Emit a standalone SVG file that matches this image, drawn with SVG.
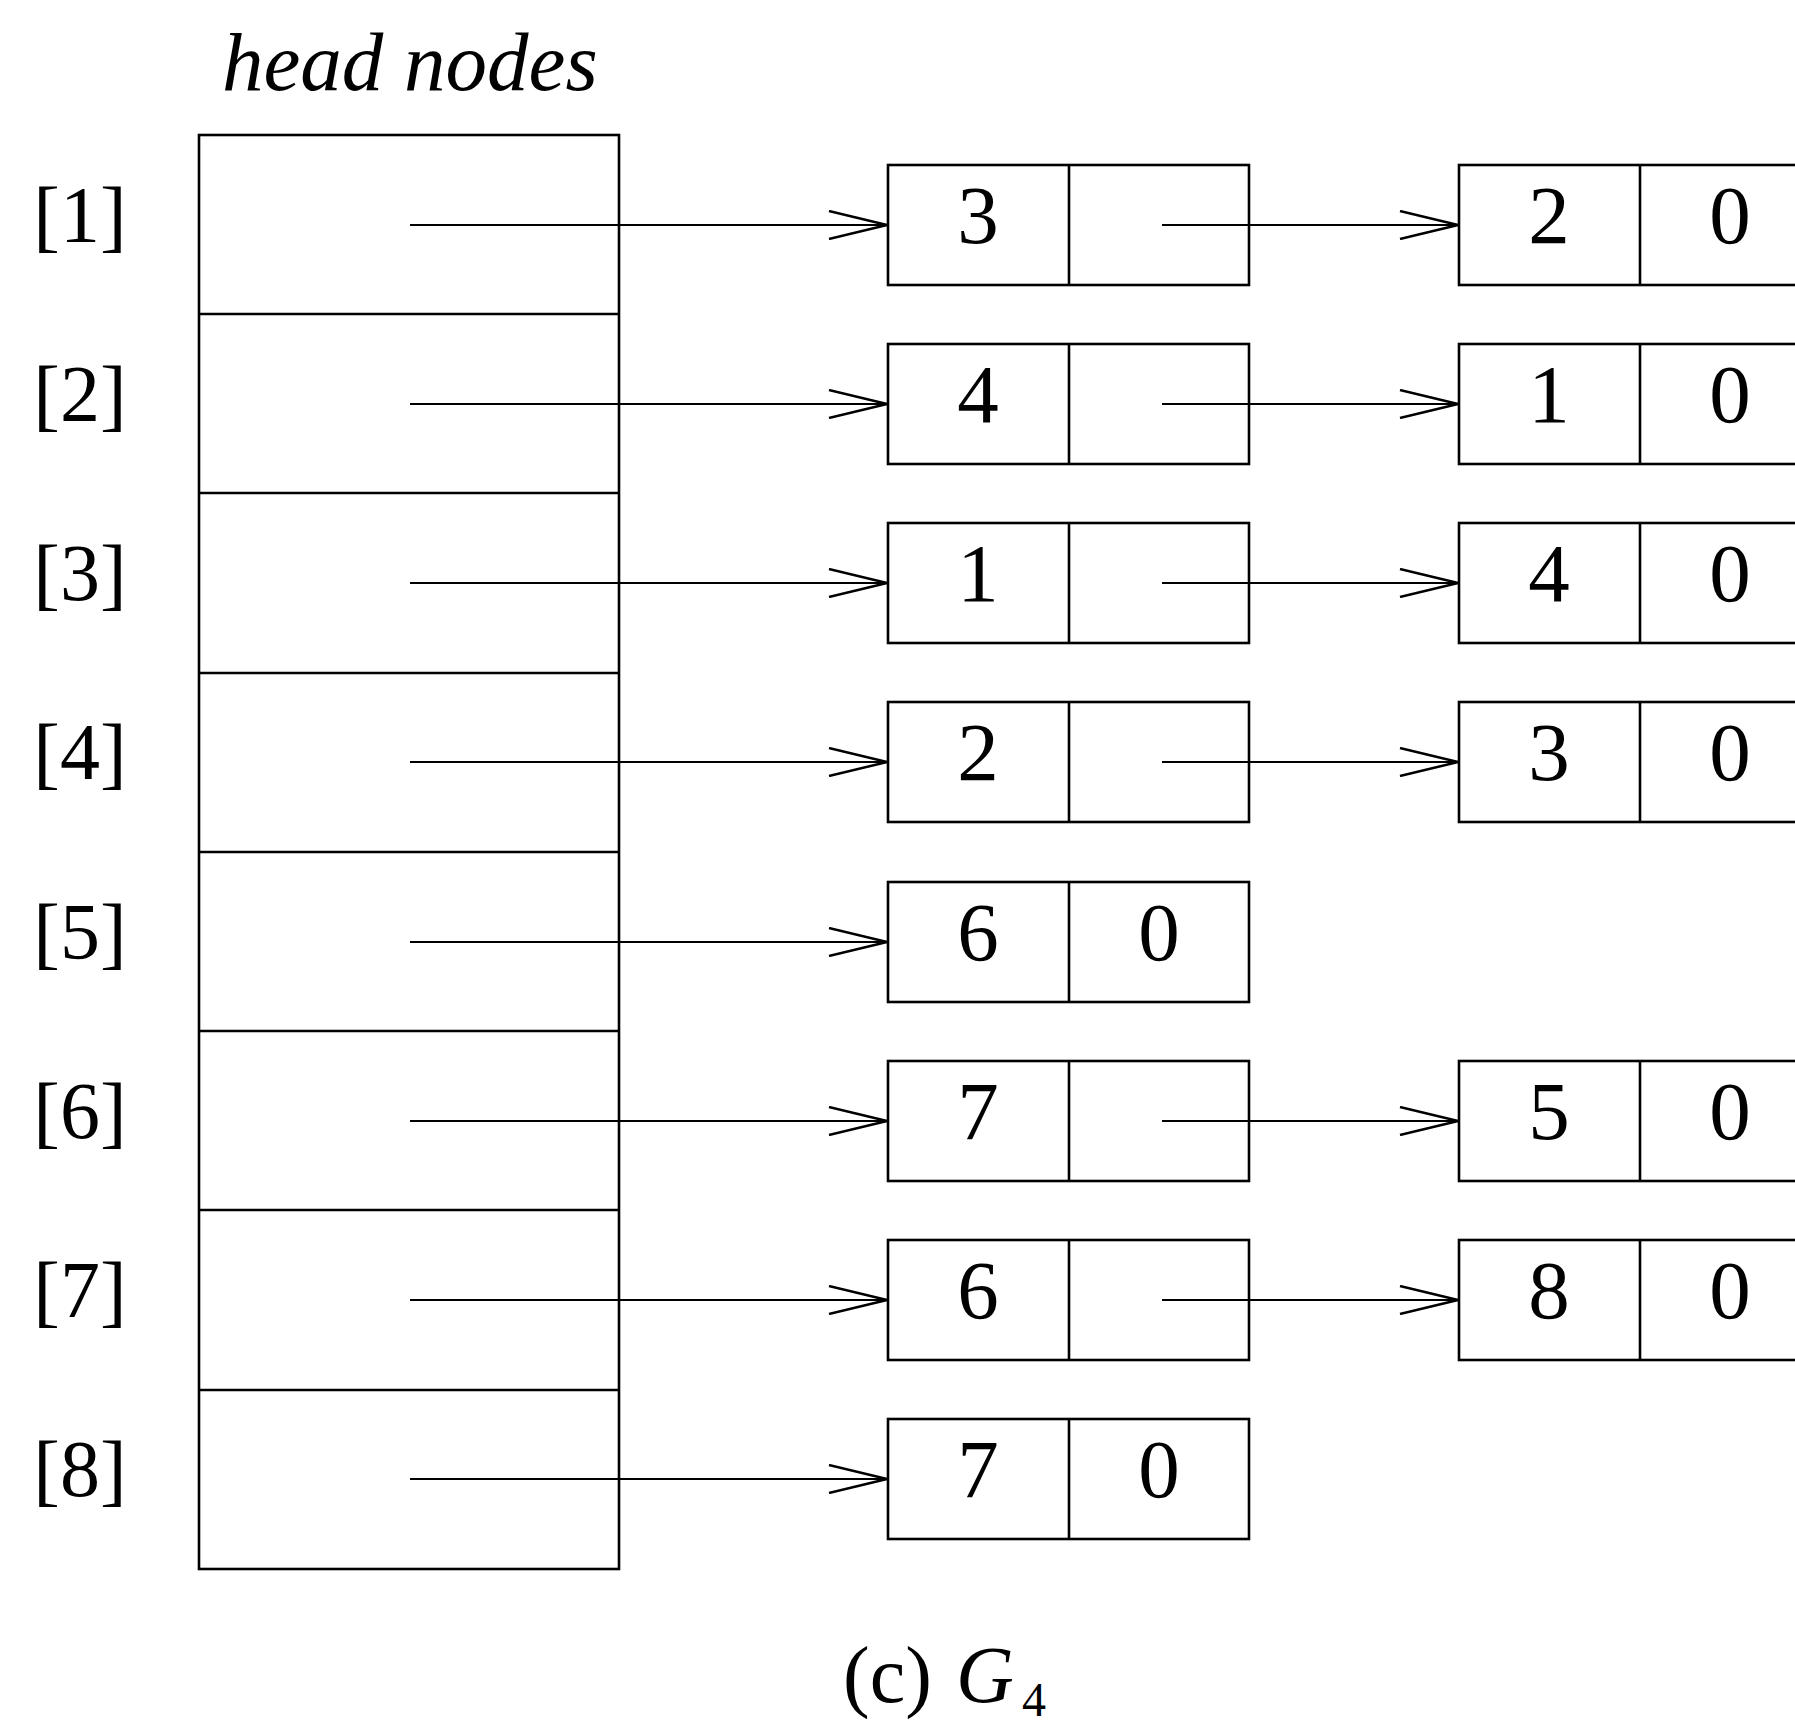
<svg xmlns="http://www.w3.org/2000/svg" width="1795" height="1727" viewBox="0 0 1795 1727">
<defs>
<style>
.box{fill:none;stroke:#000;stroke-width:2.6}
.ln{stroke:#000;stroke-width:2.6}
.arr{stroke:#000;stroke-width:2.2;fill:none;marker-end:url(#ah)}
.num{font-family:"Liberation Serif","Times New Roman",serif;font-size:83px;text-anchor:middle;fill:#000}
.lbl{font-family:"Liberation Serif","Times New Roman",serif;font-size:80px;text-anchor:middle;fill:#000}
.ttl{font-family:"Liberation Serif","Times New Roman",serif;font-size:83px;font-style:italic;fill:#000}
.cap{font-family:"Liberation Serif","Times New Roman",serif;fill:#000}
</style>
<marker id="ah" viewBox="0 0 60 30" refX="60" refY="15" markerWidth="60" markerHeight="30" markerUnits="userSpaceOnUse" orient="auto">
<path d="M1,1 L59,15 L1,29" fill="none" stroke="#000" stroke-width="2.5"/>
</marker>
</defs>
<rect width="1795" height="1727" fill="#fff"/>
<text class="ttl" x="222" y="90">head nodes</text>

<g id="head">
<rect class="box" x="199" y="135" width="420" height="1434"/>
<line class="ln" x1="199" y1="314" x2="619" y2="314"/>
<line class="ln" x1="199" y1="493" x2="619" y2="493"/>
<line class="ln" x1="199" y1="673" x2="619" y2="673"/>
<line class="ln" x1="199" y1="852" x2="619" y2="852"/>
<line class="ln" x1="199" y1="1031" x2="619" y2="1031"/>
<line class="ln" x1="199" y1="1210" x2="619" y2="1210"/>
<line class="ln" x1="199" y1="1390" x2="619" y2="1390"/>
<text class="lbl" x="80" y="242">[1]</text>
<text class="lbl" x="80" y="421">[2]</text>
<text class="lbl" x="80" y="600">[3]</text>
<text class="lbl" x="80" y="779">[4]</text>
<text class="lbl" x="80" y="959">[5]</text>
<text class="lbl" x="80" y="1138">[6]</text>
<text class="lbl" x="80" y="1317">[7]</text>
<text class="lbl" x="80" y="1496">[8]</text>
</g>

<g id="connectors">
<line class="arr" x1="410" y1="225" x2="888" y2="225"/>
<line class="arr" x1="410" y1="404" x2="888" y2="404"/>
<line class="arr" x1="410" y1="583" x2="888" y2="583"/>
<line class="arr" x1="410" y1="762" x2="888" y2="762"/>
<line class="arr" x1="410" y1="942" x2="888" y2="942"/>
<line class="arr" x1="410" y1="1121" x2="888" y2="1121"/>
<line class="arr" x1="410" y1="1300" x2="888" y2="1300"/>
<line class="arr" x1="410" y1="1479" x2="888" y2="1479"/>
<line class="arr" x1="1162" y1="225" x2="1459" y2="225"/>
<line class="arr" x1="1162" y1="404" x2="1459" y2="404"/>
<line class="arr" x1="1162" y1="583" x2="1459" y2="583"/>
<line class="arr" x1="1162" y1="762" x2="1459" y2="762"/>
<line class="arr" x1="1162" y1="1121" x2="1459" y2="1121"/>
<line class="arr" x1="1162" y1="1300" x2="1459" y2="1300"/>
</g>

<g id="n1a"><rect class="box" x="888" y="165" width="361" height="120"/><line class="ln" x1="1069" y1="165" x2="1069" y2="285"/><text class="num" x="978" y="243">3</text></g>
<g id="n1b"><rect class="box" x="1459" y="165" width="361" height="120"/><line class="ln" x1="1640" y1="165" x2="1640" y2="285"/><text class="num" x="1549" y="243">2</text><text class="num" x="1730" y="243">0</text></g>

<g id="n2a"><rect class="box" x="888" y="344" width="361" height="120"/><line class="ln" x1="1069" y1="344" x2="1069" y2="464"/><text class="num" x="978" y="422">4</text></g>
<g id="n2b"><rect class="box" x="1459" y="344" width="361" height="120"/><line class="ln" x1="1640" y1="344" x2="1640" y2="464"/><text class="num" x="1549" y="422">1</text><text class="num" x="1730" y="422">0</text></g>

<g id="n3a"><rect class="box" x="888" y="523" width="361" height="120"/><line class="ln" x1="1069" y1="523" x2="1069" y2="643"/><text class="num" x="978" y="601">1</text></g>
<g id="n3b"><rect class="box" x="1459" y="523" width="361" height="120"/><line class="ln" x1="1640" y1="523" x2="1640" y2="643"/><text class="num" x="1549" y="601">4</text><text class="num" x="1730" y="601">0</text></g>

<g id="n4a"><rect class="box" x="888" y="702" width="361" height="120"/><line class="ln" x1="1069" y1="702" x2="1069" y2="822"/><text class="num" x="978" y="780">2</text></g>
<g id="n4b"><rect class="box" x="1459" y="702" width="361" height="120"/><line class="ln" x1="1640" y1="702" x2="1640" y2="822"/><text class="num" x="1549" y="780">3</text><text class="num" x="1730" y="780">0</text></g>

<g id="n5a"><rect class="box" x="888" y="882" width="361" height="120"/><line class="ln" x1="1069" y1="882" x2="1069" y2="1002"/><text class="num" x="978" y="960">6</text><text class="num" x="1159" y="960">0</text></g>

<g id="n6a"><rect class="box" x="888" y="1061" width="361" height="120"/><line class="ln" x1="1069" y1="1061" x2="1069" y2="1181"/><text class="num" x="978" y="1139">7</text></g>
<g id="n6b"><rect class="box" x="1459" y="1061" width="361" height="120"/><line class="ln" x1="1640" y1="1061" x2="1640" y2="1181"/><text class="num" x="1549" y="1139">5</text><text class="num" x="1730" y="1139">0</text></g>

<g id="n7a"><rect class="box" x="888" y="1240" width="361" height="120"/><line class="ln" x1="1069" y1="1240" x2="1069" y2="1360"/><text class="num" x="978" y="1318">6</text></g>
<g id="n7b"><rect class="box" x="1459" y="1240" width="361" height="120"/><line class="ln" x1="1640" y1="1240" x2="1640" y2="1360"/><text class="num" x="1549" y="1318">8</text><text class="num" x="1730" y="1318">0</text></g>

<g id="n8a"><rect class="box" x="888" y="1419" width="361" height="120"/><line class="ln" x1="1069" y1="1419" x2="1069" y2="1539"/><text class="num" x="978" y="1497">7</text><text class="num" x="1159" y="1497">0</text></g>

<g id="caption">
<text class="cap" x="843" y="1702" style="font-size:80px">(c)</text>
<text class="cap" x="956" y="1702" style="font-size:80px;font-style:italic">G</text>
<text class="cap" x="1022" y="1716" style="font-size:48px">4</text>
</g>
</svg>
